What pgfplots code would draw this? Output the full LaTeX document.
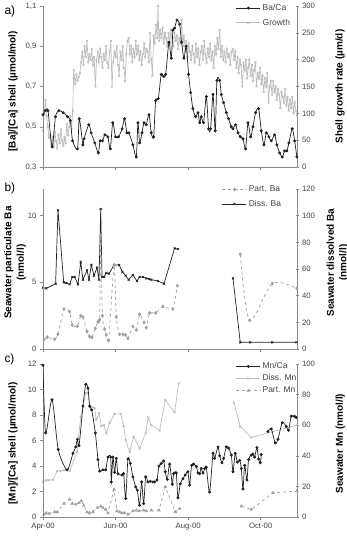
\documentclass[border=0pt]{standalone}
\usepackage{pgfplots}
\pgfplotsset{compat=1.18}
\usepackage{fontspec}
\setmainfont{Liberation Sans}
\definecolor{axisgray}{HTML}{8A8A8A}
\definecolor{ticktext}{HTML}{444444}
\definecolor{lightser}{HTML}{BDBDBD}
\definecolor{midser}{HTML}{A0A0A0}
\definecolor{darkser}{HTML}{222222}
\pgfplotsset{
  base/.style={scale only axis, width=254bp, xmin=0, xmax=213.5,
    xtick={0,61,122,183},
    axis line style={draw=axisgray, line width=0.6bp},
    tick style={draw=axisgray, line width=0.5bp},
    major tick length=3bp,
    ticklabel style={font=\fontsize{7.8}{9}\selectfont, text=ticktext},
    /pgf/number format/assume math mode=true,
    ylabel style={font=\bfseries\fontsize{10}{12.5}\selectfont, anchor=center, align=center},
    legend image code/.code={\draw[mark repeat=2,mark phase=2,#1] plot coordinates {(0bp,0bp)(12bp,0bp)(24bp,0bp)};},
  },
  leftax/.style={base, axis x line*=bottom, axis y line*=left, tick align=outside},
  rightax/.style={base, axis y line*=right, axis x line=none, tick align=center, xticklabels={}},
  sBa/.style={color=darkser, line width=0.7bp, mark=*, mark size=1.1bp, mark options={solid}},
  sGr/.style={color=lightser, line width=0.7bp, mark=x, mark size=1.3bp, mark options={solid}},
  sDBa/.style={color=darkser, line width=0.7bp, mark=x, mark size=1.4bp, mark options={solid}},
  sPBa/.style={color=midser, line width=0.7bp, dashed, mark=diamond*, mark size=1.5bp, mark options={solid}},
  sDMn/.style={color=lightser, line width=0.7bp, mark=x, mark size=1.4bp, mark options={solid}},
  sPMn/.style={color=midser, line width=0.7bp, dashed, mark=triangle*, mark size=1.4bp, mark options={solid}},
  leg/.style={legend style={draw=none, fill=none, font=\fontsize{8.5}{10}\selectfont, text=ticktext, row sep=3bp, legend cell align=left, inner sep=1bp}},
}
\begin{document}
\begin{tikzpicture}
\useasboundingbox (0,0) rectangle (347bp,-537bp);
% ---------------- Panel a ----------------
\begin{axis}[rightax, at={(43bp,-167bp)}, anchor=south west, height=161bp,
  ymin=0, ymax=300, ytick={0,50,...,300},
  ylabel={Shell growth rate (µm/d)}, ylabel style={at={(axis description cs:1.17,0.5)}}]
\addplot[sGr] coordinates {
(0,68)(1,100)(2,125)(3,95)(4,75)(5,55)(6,60)(7,42)(8,55)(9,38)(10,65)(11,48)(12,35)(13,60)(14,45)(15,70)(16,50)(17,40)(18,55)(19,45)(20,80)(21,60)(22,75)(23,95)(24,70)(25,105)
(25.8,180)(27,155)(28,172)(29,160)(30,168)(31,175)(32,195)(33,215)(34,190)(35,225)(36,205)(37,235)(38,195)(39,210)(40,200)(41,220)(42,190)(43,205)(44,150)(45,200)(46,215)(47,195)(48,220)(49,205)(50,185)(51,210)(52,200)(53,225)(54,195)(55,185)(56,215)(57,235)(58,150)(59,195)
(60,215)(61,205)(62,225)(63,190)(64,170)(65,215)(66,200)(67,225)(68,185)(69,160)(70,210)(71,235)(72,240)(73,210)(74,225)(75,195)(76,220)(77,205)(78,235)(79,210)(80,225)(81,200)(82,215)(83,190)(84,210)(85,230)(86,205)(87,220)(88,215)(89,195)(90,250)(91,200)(92,170)
(93,245)(94,230)(95,265)(96,240)(96.6,300)(97.5,235)(98.5,255)(99.5,240)(100.5,260)(101.5,230)(102.5,250)(103.5,240)(104.5,225)(105.5,250)(106.5,230)(107.5,255)(108.5,240)(109.5,225)(110.5,250)(111.5,235)(112.5,245)(113.5,220)(114.5,240)(115.5,230)(116.5,275)(117.5,225)(118.5,245)(119.5,215)
(120.5,235)(121.5,205)(122.5,230)(123.5,215)(124.5,200)(125.5,225)(126.5,210)(127.5,195)(128.5,230)(129.5,205)(130.5,220)(131.5,190)(132.5,215)(133.5,225)(134.5,200)(135.5,235)(136.5,210)(137.5,195)(138.5,220)(139.5,205)(140.5,230)(141.5,200)(142.5,215)(143.5,185)(144.5,225)(145.5,210)(146.5,240)(147.5,220)(148.5,255)(149.5,205)
(150.5,225)(151.5,200)(152.5,215)(153.5,195)(154.5,220)(155.5,205)(156.5,210)(157.5,190)(158.5,215)(159.5,220)(160.5,200)(161.5,215)(162.5,185)(163.5,205)(164.5,175)(165.5,200)(166.5,190)(167.5,150)(168.5,195)(169.5,180)(170.5,200)(171.5,165)(172.5,185)(173.5,200)(174.5,170)(175.5,190)(176.5,160)(177.5,180)(178.5,195)(179.5,150)
(180.5,175)(181.5,165)(182.5,185)(183.5,155)(184.5,170)(185.5,140)(186.5,165)(187.5,150)(188.5,175)(189.5,120)(190.5,150)(191.5,160)(192.5,135)(193.5,160)(194.5,140)(195.5,150)(196.5,125)(197.5,145)(198.5,135)(199.5,110)(200.5,140)(201.5,130)(202.5,120)(203.5,145)(204.5,115)(205.5,130)(206.5,105)(207.5,125)(208.5,110)(209.5,130)(210.5,100)(211.5,120)(212.5,105)(213.4,95)
};
\end{axis}
\begin{axis}[leftax, leg, at={(43bp,-167bp)}, anchor=south west, height=161bp,
  ymin=0.3, ymax=1.1, ytick={0.3,0.5,0.7,0.9,1.1}, xticklabels={},
  yticklabel style={/pgf/number format/.cd, use comma, fixed, fixed zerofill, precision=1},
  ylabel={[Ba]/[Ca] shell (µmol/mol)}, ylabel style={at={(axis description cs:-0.118,0.47)}},
  legend style={at={(axis description cs:0.985,1.03)}, anchor=north east}]
\addplot[sBa, smooth, tension=0.45] coordinates {
(0,0.56)(2,0.58)(4.2,0.58)(7.6,0.40)(10.5,0.55)(13.4,0.58)(17,0.57)(20.6,0.55)(23,0.53)(24.9,0.43)(29,0.39)(30.5,0.54)(33.5,0.41)(34.5,0.44)(38.5,0.51)(40.5,0.47)(43.5,0.42)(46.5,0.37)(48,0.43)(50,0.43)(52,0.46)(54.5,0.45)(56.6,0.39)(58.6,0.52)(61,0.45)(63.5,0.45)(66.5,0.49)(68.5,0.54)(70.5,0.47)(72.2,0.47)(75.6,0.41)(78.4,0.35)(79.8,0.52)(81.2,0.42)(83.2,0.47)(84.9,0.52)(86.8,0.51)(89.1,0.56)(91,0.47)(93,0.45)(94.7,0.63)(96.9,0.64)(99.4,0.76)(101.4,0.75)(103.1,0.76)(105.9,0.92)(107.8,0.84)(109.2,0.98)(110.6,0.99)(112.6,1.03)(114.8,1.01)(116.5,0.92)(118.5,0.84)(120.4,0.90)(122.4,0.76)(124.1,0.67)(126,0.59)(128.3,0.55)(130.3,0.57)(131.7,0.52)(133,0.55)(135,0.52)(137.3,0.65)(139.2,0.49)(140.9,0.49)(142.9,0.66)(144.8,0.48)(146.2,0.73)(148.5,0.73)(149.9,0.66)(151.8,0.62)(154.1,0.57)(156,0.54)(158.3,0.50)(159.7,0.49)(161.9,0.51)(163.9,0.47)(165.8,0.45)(168.1,0.44)(170.3,0.39)(172.3,0.52)(174.5,0.45)(176.5,0.50)(178.7,0.57)(181.2,0.59)(183.5,0.48)(185.7,0.41)(187.7,0.47)(189.9,0.45)(191.9,0.43)(194.7,0.46)(196.6,0.41)(198.9,0.37)(201.1,0.35)(203.1,0.38)(205,0.38)(206.7,0.42)(209.5,0.49)(211.5,0.43)(213.4,0.35)
};
\addlegendentry{Ba/Ca}
\addlegendimage{sGr}
\addlegendentry{Growth}
\end{axis}
% ---------------- Panel b ----------------
\begin{axis}[rightax, at={(43bp,-349bp)}, anchor=south west, height=160bp,
  ymin=0, ymax=120, ytick={0,20,...,120},
  ylabel={Seawater dissolved Ba\\(nmol/l)}, ylabel style={at={(axis description cs:1.16,0.54)}}]
\addplot[sDBa] coordinates {
(0,46)(2.8,45.5)(10.6,49)(12.6,104)(17.4,50)(19.6,49.5)(22.4,48.5)(24.6,54)(26.6,54)(29.4,48.5)(31.7,65)(33.6,52)(37,59)(38.7,52)(40.6,63)(42.9,55)(45.4,61)(47.1,52)(48.5,105)(49.6,54)(51.3,54)(53.2,57)(55.5,56.5)(59.7,63)(63.9,63)(66.7,58)(69.5,55)(72,52)(75.6,55.5)(79,51)(81.2,54)(84,54)(86.8,53)(89.1,52.5)(91,52)(96.6,51)(101.7,49)(110.6,75.5)(113.4,75)
};
\addplot[sDBa] coordinates {(159.7,53)(165.8,5)(174.2,5)(192.7,5)(213,5)};
\end{axis}
\begin{axis}[leftax, leg, at={(43bp,-349bp)}, anchor=south west, height=160bp,
  ymin=0, ymax=12, ytick={0,5,10}, xticklabels={},
  ylabel={Seawater particulate Ba\\(nmol/l)}, ylabel style={at={(axis description cs:-0.11,0.54)}},
  legend style={at={(axis description cs:0.95,1.04)}, anchor=north east}]
\addplot[sPBa, smooth, tension=0.3] coordinates {
(0.8,0.73)(3.6,0.88)(9.8,0.73)(12.6,1.1)(17.6,3.0)(22.4,2.8)(24.6,1.8)(28.9,1.7)(31.7,2.5)(33.6,2.4)(37,1.3)(39.2,0.93)(41.2,0.88)(44,1.55)(46.2,2.05)(47.6,2.2)(48.5,8.5)(49.9,2.5)(51.8,1.5)(53.2,1.05)(55.2,0.63)(59.7,6.3)(61.6,2.4)(64.4,1.1)(67.2,1.1)(69.5,1.05)(71.4,0.8)(75.6,1.68)(78.4,1.43)(81.2,2.6)(84.9,2.0)(86.8,1.6)(89.6,2.7)(94.7,2.7)(100.8,3.2)(109.2,3.0)(112.9,4.75)
};
\addlegendentry{Part. Ba}
\addplot[sPBa, smooth, tension=0.5, forget plot] coordinates {(165.8,7.1)(173.7,2.15)(192.7,4.9)(213.4,4.55)};
\addlegendimage{sDBa}
\addlegendentry{Diss. Ba}
\end{axis}
% ---------------- Panel c ----------------
\begin{axis}[rightax, at={(43bp,-517bp)}, anchor=south west, height=153bp,
  ymin=0, ymax=100, ytick={0,20,...,100},
  ylabel={Seawater Mn (nmol/l)}, ylabel style={at={(axis description cs:1.17,0.48)}}]
\addplot[sDMn] coordinates {
(0,23)(2.8,24)(5,24)(8.4,24.5)(11.8,30)(14.6,30)(18.2,30.6)(22.4,30)(28.6,42.7)(31.7,65.6)(33.6,72)(35.9,81)(37.8,81)(39.8,72)(41.5,71.8)(43.4,71)(44.8,63.5)(47.1,67.8)(49,59.5)(51.3,60)(53.2,54.7)(56,61.7)(60.2,67.4)(65.3,67.4)(67.8,59.5)(69.5,50.3)(72.8,42.7)(76.2,52.5)(81.2,44.8)(86.3,55)(88.5,65)(91,60)(98,56.5)(102.8,76.6)(110.6,68.3)(114,87.5)
};
\addplot[sDMn] coordinates {(160.5,74.8)(165.8,59)(175.1,52)(213.4,60)};
\addplot[sPMn] coordinates {
(0.8,1.75)(2.8,2.6)(5,2.2)(9.8,3.3)(12,3.3)(17.6,8.75)(22.4,11.6)(24.6,8.75)(27.5,8.3)(30.3,9.2)(32.2,10.5)(34.2,7.7)(37,3.3)(39.2,2.6)(42,3.3)(45.7,6.1)(48.5,7.0)(50.4,6.1)(52.7,4.8)(54.6,2.6)(59.7,18)(62.2,3.9)(64.4,3.3)(66.4,2.6)(68.6,2.6)(71.4,1.75)(75.6,3.9)(78.4,4.4)(80.7,3.9)(84.6,4.4)(86.8,3.9)(91,4.4)(97.5,4.4)(102.8,19.7)(111.2,3.3)(114.8,5.5)
};
\addplot[sPMn] coordinates {(166.7,7.0)(175.1,5.0)(193.3,15.8)(213.4,17)};
\end{axis}
\begin{axis}[leftax, leg, at={(43bp,-517bp)}, anchor=south west, height=153bp,
  ymin=0, ymax=12, ytick={0,2,...,12},
  xticklabels={Apr-00,Jun-00,Aug-00,Oct-00},
  ylabel={[Mn]/[Ca] shell (µmol/mol)}, ylabel style={at={(axis description cs:-0.118,0.48)}},
  legend style={at={(axis description cs:1.01,1.03)}, anchor=north east, row sep=0.5bp}]
\addplot[sBa, smooth, tension=0.45] coordinates {
(0,11.9)(2.2,6.6)(7.6,9.2)(12.8,5.3)(20.2,3.7)(25.2,5.0)(27.5,5.5)(28.9,6.1)(30.3,5.6)(33.6,8.7)(35.9,10.4)(37.8,10.1)(39.2,8.7)(40.9,8.4)(44,6.6)(46.2,4.5)(47.6,3.6)(50.4,3.7)(52.7,3.7)(54.6,4.7)(56.9,4.7)(57.4,2.75)(58.8,4.7)(60.2,3.5)(61.6,4.6)(63,3.4)(66.4,3.3)(67.8,3.4)(69.5,1.45)(71.4,4.55)(73.4,4.2)(75.6,3.15)(77.9,2.36)(79.3,2.1)(81.2,0.92)(82.9,2.75)(84.6,1.05)(86.3,3.15)(88.2,2.75)(90.2,2.8)(92.4,2.75)(93.8,2.75)(95.8,2.9)(97.5,4.0)(99.4,4.2)(101.4,4.4)(102.8,3.55)(104.5,2.95)(106.4,4.15)(108.7,2.57)(109.8,3.4)(112,3.45)(113.4,1.5)(115.4,2.6)(117.6,3.0)(119.6,3.3)(121.8,3.55)(123.2,2.5)(124.9,4.05)(126.6,4.15)(128.9,3.95)(130.3,3.45)(131.7,3.4)(133,3.8)(134.5,3.45)(135.9,3.8)(137.3,3.9)(140,1.95)(142.9,5.0)(144.3,4.6)(147.1,5.5)(148.5,4.8)(150.4,4.25)(151.8,4.6)(154.1,5.5)(156,5.4)(158.3,4.85)(159.7,3.55)(161.6,5.0)(163.3,4.3)(165.3,4.45)(166.7,3.8)(168.1,2.2)(169.5,4.05)(171.4,2.9)(172.8,4.5)(175.1,4.85)(176.5,4.95)(177.9,4.7)(179.8,5.45)(181.2,4.55)(182.6,4.25)(183.5,4.9)
};
\addlegendentry{Mn/Ca}
\addplot[sBa, smooth, tension=0.45, forget plot] coordinates {
(189.1,6.7)(191.9,6.9)(195.2,5.8)(197.5,6.1)(201.1,7.4)(204.5,7.1)(206.4,6.8)(208.7,7.9)(211.5,7.9)(212.9,7.8)
};
\addlegendimage{sDMn}
\addlegendentry{Diss. Mn}
\addlegendimage{sPMn}
\addlegendentry{Part. Mn}
\end{axis}
% panel letters
\node[anchor=west, font=\fontsize{12}{13}\selectfont] at (1bp,-11bp) {a)};
\node[anchor=west, font=\fontsize{12}{13}\selectfont] at (1bp,-188bp) {b)};
\node[anchor=west, font=\fontsize{12}{13}\selectfont] at (1bp,-359bp) {c)};
\end{tikzpicture}
\end{document}
